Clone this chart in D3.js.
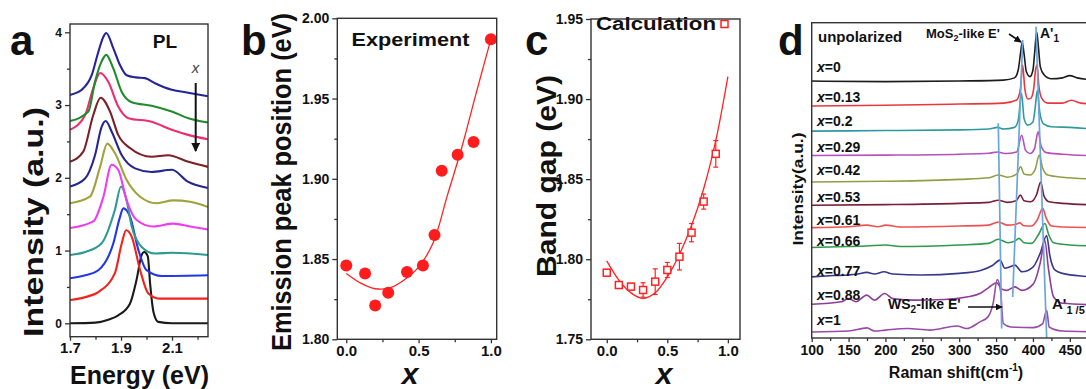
<!DOCTYPE html>
<html><head><meta charset="utf-8">
<script src="https://cdn.jsdelivr.net/npm/d3@7"></script>
<style>body{margin:0;background:#fff}svg text{font-family:'Liberation Sans',Arial,sans-serif}</style>
</head><body><svg id="fig" width="1086" height="389"></svg>
<script>
// ---------------- DATA ----------------
// Panel a: PL spectra [energy eV, intensity a.u.] (top to bottom)
const plSpectra = [
 [[1.70,3.14],[1.746,3.21],[1.785,3.41],[1.811,3.73],[1.831,3.94],[1.842,3.99],[1.87,3.78],[1.896,3.55],[1.922,3.41],[1.96,3.38],[1.994,3.37],[2.033,3.30],[2.099,3.21],[2.163,3.17],[2.241,3.12]],
 [[1.70,2.78],[1.772,2.91],[1.798,3.32],[1.824,3.60],[1.842,3.69],[1.87,3.50],[1.903,3.18],[1.942,3.04],[2.02,2.99],[2.099,2.91],[2.164,2.82],[2.241,2.76]],
 [[1.70,2.66],[1.759,2.86],[1.791,3.23],[1.818,3.44],[1.85,3.32],[1.889,2.98],[1.929,2.82],[2.02,2.77],[2.099,2.66],[2.163,2.59],[2.241,2.53]],
 [[1.70,2.22],[1.752,2.36],[1.791,2.86],[1.82,3.10],[1.857,2.91],[1.889,2.59],[1.935,2.41],[2.02,2.29],[2.085,2.31],[2.164,2.22],[2.241,2.15]],
 [[1.70,1.88],[1.759,1.99],[1.798,2.31],[1.824,2.70],[1.84,2.78],[1.864,2.63],[1.903,2.31],[1.955,2.13],[2.02,2.08],[2.1,2.11],[2.16,1.95],[2.241,1.86]],
 [[1.70,1.65],[1.778,1.74],[1.818,2.15],[1.846,2.47],[1.876,2.34],[1.922,1.97],[1.975,1.74],[2.04,1.65],[2.105,1.69],[2.171,1.67],[2.241,1.60]],
 [[1.70,1.31],[1.791,1.40],[1.831,1.74],[1.863,2.18],[1.889,2.11],[1.922,1.69],[1.961,1.42],[2.027,1.33],[2.105,1.37],[2.171,1.33],[2.241,1.29]],
 [[1.70,0.94],[1.76,0.98],[1.824,1.10],[1.876,1.56],[1.9,1.88],[1.92,1.72],[1.942,1.33],[1.981,1.05],[2.033,0.96],[2.1,0.97],[2.241,0.94]],
 [[1.70,0.62],[1.76,0.66],[1.811,0.73],[1.87,1.10],[1.895,1.45],[1.909,1.58],[1.935,1.47],[1.968,1.01],[2.0,0.73],[2.06,0.65],[2.241,0.66]],
 [[1.70,0.32],[1.76,0.36],[1.811,0.43],[1.876,0.69],[1.903,1.10],[1.92,1.28],[1.942,1.19],[1.975,0.73],[2.007,0.41],[2.05,0.34],[2.241,0.34]],
 [[1.70,0.0],[1.80,0.01],[1.85,0.05],[1.889,0.11],[1.935,0.27],[1.961,0.60],[1.981,0.94],[1.991,0.98],[2.005,0.92],[2.014,0.55],[2.027,0.16],[2.046,0.02],[2.1,0.0],[2.241,0.0]]
];
const plYTicks = [0,1,2,3,4];
const plYMinor = [0.5,1.5,2.5,3.5];
const plXTicks = [1.7,1.9,2.1];
const plXMinor = [1.8,2.0,2.2];

// Panel b: experiment
const expX = [0,0.13,0.2,0.29,0.42,0.53,0.61,0.66,0.77,0.88,1.0];
const expY = [1.846,1.841,1.821,1.829,1.842,1.846,1.865,1.905,1.915,1.923,1.987];
const expFitX = [0,0.1,0.2,0.3,0.4,0.5,0.6,0.7,0.8,0.9,1.0];
const expFitY = [1.841,1.835,1.8315,1.832,1.837,1.845,1.860,1.890,1.920,1.954,1.987];
const expYTicks = [1.80,1.85,1.90,1.95,2.00];
const expYMinor = [1.825,1.875,1.925,1.975];

// Panel c: calculation
const calX = [0,0.1,0.2,0.3,0.4,0.5,0.6,0.7,0.8,0.9];
const calY = [1.7916,1.7839,1.7829,1.7808,1.786,1.7933,1.8016,1.8166,1.836,1.8658];
const calErr = [0.002,0.002,0.002,0.0045,0.008,0.0047,0.0083,0.0057,0.0047,0.0083];
const calFitX = [0,0.1,0.2,0.3,0.4,0.5,0.6,0.7,0.8,0.9,1.0];
const calFitY = [1.799,1.787,1.779,1.7755,1.779,1.789,1.803,1.821,1.844,1.874,1.914];
const calYTicks = [1.75,1.80,1.85,1.90,1.95];
const calYMinor = [1.775,1.825,1.875,1.925];
const compTicks = [0,0.5,1.0];
const compMinor = [0.25,0.75];

// Panel d: Raman spectra [shift cm-1, intensity a.u.]
const ramanLabels = ["0","0.13","0.2","0.29","0.42","0.53","0.61","0.66","0.77","0.88","1"];
const ramanSpectra = [
 [[100,8.15],[200,8.13],[300,8.15],[360,8.18],[375,8.25],[380,8.5],[383,9.0],[385.5,9.38],[388,9.0],[391,8.45],[396,8.29],[400,8.5],[402.5,9.1],[405,9.71],[407.5,9.2],[410,8.6],[415,8.35],[425,8.22],[440,8.25],[450,8.32],[460,8.25],[500,8.15]],
 [[100,7.36],[200,7.38],[300,7.42],[360,7.45],[378,7.55],[383,7.9],[386,8.66],[389,7.9],[393,7.58],[397,7.6],[401,7.9],[403.5,8.5],[405.5,8.66],[408,8.0],[412,7.6],[420,7.45],[440,7.45],[452,7.54],[465,7.45],[500,7.40]],
 [[100,6.56],[200,6.58],[300,6.6],[340,6.63],[352,6.68],[360,6.63],[375,6.68],[380,6.9],[384.5,7.76],[388,6.95],[393,6.75],[400,6.85],[403,7.3],[406,7.86],[409,7.2],[414,6.8],[425,6.7],[450,6.68],[500,6.59]],
 [[100,5.79],[200,5.8],[300,5.83],[340,5.86],[352,5.9],[362,5.85],[378,5.9],[384.7,6.43],[390,5.95],[396,5.85],[402,6.0],[407,6.54],[411,6.1],[418,5.88],[440,5.83],[500,5.77]],
 [[100,4.95],[200,4.97],[300,5.03],[340,5.08],[353,5.17],[365,5.1],[378,5.2],[383.3,5.43],[388,5.2],[396,5.17],[403,5.35],[408.6,5.80],[413,5.4],[420,5.17],[440,5.1],[500,5.03]],
 [[100,4.21],[200,4.23],[300,4.27],[340,4.3],[353,4.37],[365,4.3],[377,4.35],[383,4.53],[388,4.35],[397,4.32],[405,4.55],[410.5,4.95],[415,4.5],[422,4.32],[440,4.27],[500,4.21]],
 [[100,3.50],[150,3.53],[175,3.58],[190,3.53],[200,3.58],[220,3.52],[300,3.55],[340,3.58],[353,3.68],[365,3.58],[376,3.6],[382,3.65],[388,3.56],[398,3.55],[406,3.75],[413.2,4.11],[418,3.8],[425,3.55],[440,3.52],[500,3.50]],
 [[100,2.87],[150,2.9],[175,2.92],[200,2.95],[220,2.9],[300,2.95],[340,3.0],[353,3.13],[366,3.02],[376,3.08],[381,3.16],[388,3.02],[398,3.0],[408,3.3],[416.3,3.63],[421,3.3],[428,3.02],[450,2.95],[500,2.91]],
 [[100,1.94],[130,1.98],[150,2.0],[160,2.02],[175,2.08],[185,2.03],[198,2.1],[210,2.03],[250,2.0],[300,2.05],[330,2.15],[345,2.3],[355.3,2.47],[362,2.21],[368,2.25],[375.6,2.31],[385,2.1],[400,2.25],[410,2.7],[418.6,3.25],[423,2.6],[430,2.15],[440,2.05],[472,1.95],[500,1.9]],
 [[100,1.07],[140,1.15],[150,1.25],[160,1.15],[174.6,1.36],[185,1.2],[199,1.41],[210,1.25],[240,1.2],[280,1.22],[310,1.3],[328,1.41],[340,1.6],[350.8,1.75],[358,1.55],[364,1.51],[375.6,1.62],[385,1.51],[400,1.7],[410,2.4],[416,3.1],[421,2.2],[428,1.3],[440,1.1],[500,1.04]],
 [[100,0.19],[150,0.22],[175,0.32],[185,0.22],[200,0.25],[230,0.3],[260,0.25],[297,0.38],[310,0.3],[328,0.51],[339,0.67],[346,1.1],[351.6,1.85],[356,1.5],[359.8,0.46],[370,0.35],[400,0.33],[413,0.45],[418.6,0.88],[422,0.35],[440,0.22],[500,0.19]]
];
const ramanGuides = [
 [[353.0,6.81],[357.6,0.30]],
 [[386.1,9.45],[372.5,1.30]],
 [[404.1,9.87],[418.6,0.0]]
];
const ramanXTicks = [100,150,200,250,300,350,400,450];
const ramanXMinor = [125,175,225,275,325,375,425,475];

// ---------------- STYLE ----------------
const FONT = "'Liberation Sans', Arial, sans-serif";
const plColors = ["#25259a","#1f8c2c","#ee2d6c","#7e1f26","#26268f","#a0a23c","#f03cf0","#2f9a90","#2238e6","#f2231d","#1a1a1a"];
const ramanColors = ["#1c1c1c","#e8383d","#2e9aa0","#b650ba","#8f9f44","#7a1f35","#f0504f","#2e9a4e","#37378f","#8d3c9c","#9a4aa8"];
const AX = "#333";

const svg = d3.select("#fig");
const defs = svg.append("defs");
defs.append("marker").attr("id","ah").attr("viewBox","0 0 10 10").attr("refX",9).attr("refY",5)
  .attr("markerWidth",4.5).attr("markerHeight",4.5).attr("orient","auto")
  .append("path").attr("d","M0,0L10,5L0,10z").attr("fill","#111");

function txt(g, x, y, s, o) {
  const t = g.append("text").attr("x",x).attr("y",y).text(s)
    .attr("font-family",FONT).attr("font-size",o.size).attr("font-weight",o.weight||"bold").attr("fill",o.fill||"#111");
  if (o.anchor) t.attr("text-anchor",o.anchor);
  if (o.style) t.attr("font-style",o.style);
  if (o.len) t.attr("textLength",o.len).attr("lengthAdjust","spacingAndGlyphs");
  return t;
}
function vlabel(g, cx, cy, s, size, len, sy) {
  g.append("text").attr("transform",`translate(${cx},${cy}) rotate(-90) scale(1,${sy||1})`).attr("text-anchor","middle")
   .attr("dominant-baseline","central").attr("font-family",FONT).attr("font-size",size).attr("font-weight","bold")
   .attr("fill","#111").attr("textLength",len).attr("lengthAdjust","spacingAndGlyphs").text(s);
}
function frame(g, x, y) {
  const [x0,x1] = x.range(), [y0,y1] = y.range();
  g.append("rect").attr("x",x0).attr("y",y1).attr("width",x1-x0).attr("height",y0-y1)
    .attr("fill","none").attr("stroke",AX).attr("stroke-width",1.4);
}
function styleAxis(a, size) {
  a.select(".domain").remove();
  a.selectAll("line").attr("stroke",AX).attr("stroke-width",1.3);
  a.selectAll("text").attr("font-family",FONT).attr("font-size",size).attr("font-weight","bold").attr("fill","#111");
}
function leftAxis(g, x, y, major, minor, fmt, size) {
  const x0 = x.range()[0];
  styleAxis(g.append("g").attr("transform",`translate(${x0},0)`)
    .call(d3.axisLeft(y).tickValues(major).tickSize(5).tickPadding(3).tickFormat(fmt)), size);
  styleAxis(g.append("g").attr("transform",`translate(${x0},0)`)
    .call(d3.axisLeft(y).tickValues(minor).tickSize(3).tickFormat("")), size);
}
function bottomAxis(g, x, y, major, minor, fmt, size, pad) {
  const y0 = y.range()[0];
  styleAxis(g.append("g").attr("transform",`translate(0,${y0})`)
    .call(d3.axisBottom(x).tickValues(major).tickSize(4).tickPadding(pad).tickFormat(fmt)), size);
  styleAxis(g.append("g").attr("transform",`translate(0,${y0})`)
    .call(d3.axisBottom(x).tickValues(minor).tickSize(3).tickFormat("")), size);
}

// ---------------- PANEL A ----------------
{
  const g = svg.append("g");
  const x = d3.scaleLinear().domain([1.7,2.241]).range([70,208]);
  const y = d3.scaleLinear().domain([-0.184,4.114]).range([336.7,24]);
  const line = d3.line().x(d=>x(d[0])).y(d=>y(d[1])).curve(d3.curveMonotoneX);
  plSpectra.slice().reverse().forEach((s,i)=>{
    const idx = plSpectra.length-1-i;
    g.append("path").attr("d",line(s)).attr("fill","none").attr("stroke",plColors[idx]).attr("stroke-width",2.1);
  });
  frame(g,x,y);
  leftAxis(g,x,y,plYTicks,plYMinor,d3.format("d"),12);
  bottomAxis(g,x,y,plXTicks,plXMinor,d3.format(".1f"),15,2);
  txt(g,165,48,"PL",{size:19,anchor:"middle"});
  txt(g,195.5,73,"x",{size:15,weight:"normal",style:"italic",anchor:"middle",fill:"#444"}).attr("font-family","'Liberation Serif',serif");
  g.append("line").attr("x1",195.7).attr("y1",83).attr("x2",195.7).attr("y2",151)
    .attr("stroke","#111").attr("stroke-width",2).attr("marker-end","url(#ah)");
  vlabel(g,34,222,"Intensity (a.u.)",25,230,1.08);
  txt(g,139.5,384,"Energy (eV)",{size:26,anchor:"middle",len:139});
  txt(g,10,55,"a",{size:42});
}

// ---------------- PANEL B ----------------
{
  const g = svg.append("g");
  const x = d3.scaleLinear().domain([-0.062,1.04]).range([337.3,496.7]);
  const y = d3.scaleLinear().domain([1.80,2.00]).range([339.3,18.3]);
  const fit = expFitX.map((v,i)=>[v,expFitY[i]]);
  g.append("path").attr("d",d3.line().x(d=>x(d[0])).y(d=>y(d[1])).curve(d3.curveCatmullRom)(fit))
    .attr("fill","none").attr("stroke","#f22").attr("stroke-width",1.3);
  g.selectAll("circle").data(expX).join("circle").attr("cx",d=>x(d)).attr("cy",(d,i)=>y(expY[i]))
    .attr("r",6).attr("fill","#ff1c1c");
  vlabel(g,282,182,"Emission peak position (eV)",25,338,1.1);
  frame(g,x,y);
  leftAxis(g,x,y,expYTicks,expYMinor,d3.format(".2f"),14);
  bottomAxis(g,x,y,compTicks,compMinor,d3.format(".1f"),15,2);
  txt(g,410.5,46,"Experiment",{size:18,anchor:"middle",len:118,weight:"600"});
  txt(g,410,384,"x",{size:30,style:"italic",anchor:"middle"});
  txt(g,241,55,"b",{size:42});
}

// ---------------- PANEL C ----------------
{
  const g = svg.append("g");
  const x = d3.scaleLinear().domain([-0.13,1.1]).range([591,740]);
  const y = d3.scaleLinear().domain([1.75,1.95]).range([339.3,19]);
  const fit = calFitX.map((v,i)=>[v,calFitY[i]]);
  g.append("path").attr("d",d3.line().x(d=>x(d[0])).y(d=>y(d[1])).curve(d3.curveCatmullRom)(fit))
    .attr("fill","none").attr("stroke","#f22").attr("stroke-width",1.3);
  const eb = g.append("g").attr("stroke","#f22").attr("stroke-width",1.2);
  calX.forEach((v,i)=>{
    const cx = x(v), yt = y(calY[i]+calErr[i]), yb = y(calY[i]-calErr[i]);
    eb.append("line").attr("x1",cx).attr("x2",cx).attr("y1",yt).attr("y2",yb);
    eb.append("line").attr("x1",cx-2.5).attr("x2",cx+2.5).attr("y1",yt).attr("y2",yt);
    eb.append("line").attr("x1",cx-2.5).attr("x2",cx+2.5).attr("y1",yb).attr("y2",yb);
  });
  g.selectAll("rect.m").data(calX).join("rect").attr("class","m")
    .attr("x",d=>x(d)-3.5).attr("y",(d,i)=>y(calY[i])-3.5).attr("width",7).attr("height",7)
    .attr("fill","#fff").attr("stroke","#f22").attr("stroke-width",1.5);
  vlabel(g,547,176,"Band gap (eV)",25,202,1.08);
  frame(g,x,y);
  leftAxis(g,x,y,calYTicks,calYMinor,d3.format(".2f"),14);
  bottomAxis(g,x,y,compTicks,compMinor,d3.format(".1f"),15,2);
  txt(g,656,30,"Calculation",{size:18,anchor:"middle",len:120,weight:"600"});
  g.append("rect").attr("x",721).attr("y",20.5).attr("width",7).attr("height",7)
    .attr("fill","#fff").attr("stroke","#f22").attr("stroke-width",1.5);
  txt(g,664,384,"x",{size:30,style:"italic",anchor:"middle"});
  txt(g,525,55,"c",{size:42});
}

// ---------------- PANEL D ----------------
{
  const g = svg.append("g");
  const x = d3.scaleLinear().domain([100,500]).range([811.7,1106.7]);
  const y = d3.scaleLinear().domain([0,10]).range([338,22.7]);
  const line = d3.line().x(d=>x(d[0])).y(d=>y(d[1])).curve(d3.curveMonotoneX);
  ramanSpectra.forEach((s,i)=>{
    g.append("path").attr("d",line(s)).attr("fill","none").attr("stroke",ramanColors[i]).attr("stroke-width",1.6);
  });
  ramanGuides.forEach(s=>{
    g.append("path").attr("d",d3.line().x(d=>x(d[0])).y(d=>y(d[1]))(s))
      .attr("fill","none").attr("stroke","#6aa6dc").attr("stroke-width",1.7);
  });
  frame(g,x,y);
  bottomAxis(g,x,y,ramanXTicks,ramanXMinor,d3.format("d"),14,3);
  // composition labels
  const labY = [67,97,121,147,170,197,220,241,271,295,320];
  ramanLabels.forEach((l,i)=>{
    const t = g.append("text").attr("x",817).attr("y",labY[i]).attr("dominant-baseline","central")
      .attr("font-family",FONT).attr("font-size",14).attr("font-weight","bold").attr("fill","#111");
    t.append("tspan").attr("font-style","italic").text("x");
    t.append("tspan").text("="+l);
  });
  txt(g,818,42,"unpolarized",{size:15});
  const m = g.append("text").attr("x",926).attr("y",38).attr("font-family",FONT).attr("font-size",13).attr("font-weight","bold").attr("fill","#111");
  m.append("tspan").text("MoS");
  m.append("tspan").attr("font-size",9).attr("dy",3).text("2");
  m.append("tspan").attr("dy",-3).text("-like E'");
  g.append("line").attr("x1",1009).attr("y1",34).attr("x2",1021).attr("y2",42)
    .attr("stroke","#111").attr("stroke-width",1.6).attr("marker-end","url(#ah)");
  const a1 = g.append("text").attr("x",1040).attr("y",38).attr("font-family",FONT).attr("font-size",14).attr("font-weight","bold").attr("fill","#111");
  a1.append("tspan").text("A'");
  a1.append("tspan").attr("font-size",10).attr("dy",4).text("1");
  const w = g.append("text").attr("x",888).attr("y",309).attr("font-family",FONT).attr("font-size",14).attr("font-weight","bold").attr("fill","#111");
  w.append("tspan").text("WS");
  w.append("tspan").attr("font-size",10).attr("dy",4).text("2");
  w.append("tspan").attr("dy",-4).text("-like E'");
  g.append("line").attr("x1",968).attr("y1",307).attr("x2",1002).attr("y2",307)
    .attr("stroke","#111").attr("stroke-width",1.5).attr("marker-end","url(#ah)");
  const a2 = g.append("text").attr("x",1052).attr("y",309).attr("font-family",FONT).attr("font-size",15).attr("font-weight","bold").attr("fill","#111");
  a2.append("tspan").text("A'");
  a2.append("tspan").attr("font-size",11).attr("dy",5).text("1 /5");
  vlabel(g,798,189,"Intensity(a.u.)",14,113);
  const r = g.append("text").attr("x",956).attr("y",378).attr("text-anchor","middle").attr("font-family",FONT).attr("font-size",16).attr("font-weight","bold").attr("fill","#111");
  r.append("tspan").text("Raman shift(cm");
  r.append("tspan").attr("font-size",10).attr("dy",-7).text("-1");
  r.append("tspan").attr("dy",7).text(")");
  txt(g,778,55,"d",{size:42});
}
</script></body></html>
